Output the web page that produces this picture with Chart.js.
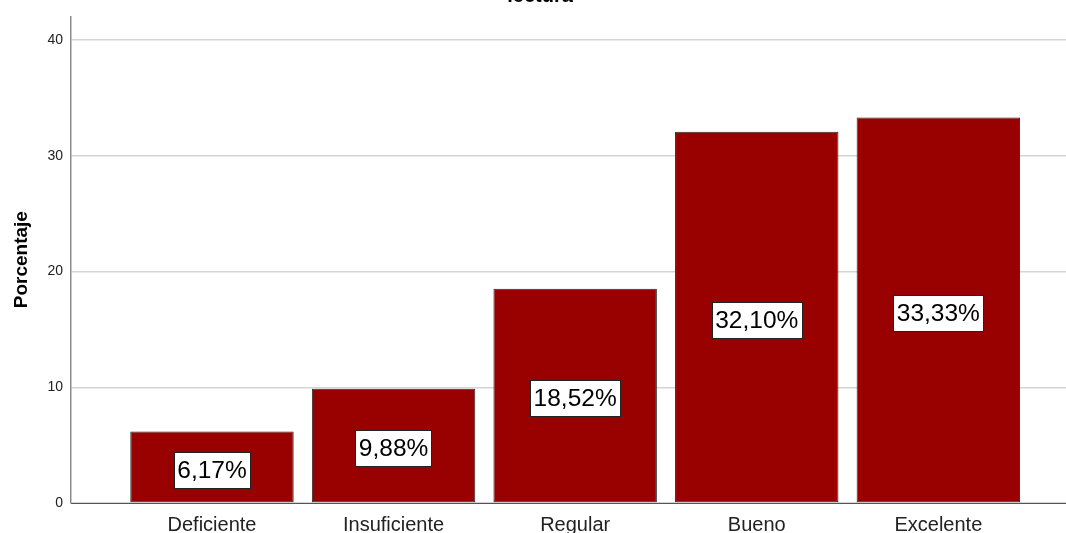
<!DOCTYPE html>
<html>
<head>
<meta charset="utf-8">
<script src="https://cdn.jsdelivr.net/npm/chart.js@4/dist/chart.umd.min.js"></script>
<style>
  html, body { margin: 0; padding: 0; background: #ffffff; }
  #wrap { width: 1066px; height: 533px; }
</style>
</head>
<body>
<div id="wrap"><canvas id="chart" width="1066" height="533"></canvas></div>
<script>
// Rating categories and their percentages
const categories = ['Deficiente', 'Insuficiente', 'Regular', 'Bueno', 'Excelente'];
const percentages = [6.17, 9.88, 18.52, 32.10, 33.33];
const yTickValues = [0, 10, 20, 30, 40];
const chartTitle = 'lectura';
const yAxisTitle = 'Porcentaje';

const FONT = '"Liberation Sans", Arial, sans-serif';

const formatPct = v => v.toFixed(2).replace('.', ',') + '%';

// Boxed value labels centred on each bar
const valueLabels = {
  id: 'valueLabels',
  afterDatasetsDraw(chart) {
    const ctx = chart.ctx;
    const meta = chart.getDatasetMeta(0);
    ctx.save();
    ctx.font = '24.5px ' + FONT;
    ctx.textAlign = 'center';
    ctx.textBaseline = 'middle';
    meta.data.forEach((bar, i) => {
      const text = formatPct(percentages[i]);
      const w = ctx.measureText(text).width + 7;
      const h = 36;
      const cx = bar.x;
      const cy = (bar.y + bar.base) / 2 + 3;
      const x0 = Math.round(cx - w / 2) + 0.5;
      const y0 = Math.round(cy - h / 2) + 0.5;
      ctx.fillStyle = '#ffffff';
      ctx.fillRect(x0, y0, Math.round(w), h);
      ctx.strokeStyle = '#222222';
      ctx.lineWidth = 1;
      ctx.strokeRect(x0, y0, Math.round(w), h);
      ctx.fillStyle = '#000000';
      ctx.fillText(text, cx, cy + 1);
    });
    ctx.restore();
  }
};

// Heading sitting at the very top edge of the canvas
const topTitle = {
  id: 'topTitle',
  afterDraw(chart) {
    const ctx = chart.ctx;
    ctx.save();
    ctx.font = 'bold 20px ' + FONT;
    ctx.textAlign = 'center';
    ctx.textBaseline = 'alphabetic';
    ctx.fillStyle = '#000000';
    ctx.fillText(chartTitle, 540, 2);
    ctx.restore();
  }
};

new Chart(document.getElementById('chart'), {
  type: 'bar',
  data: {
    datasets: [{
      data: categories.map((c, i) => ({ x: i, y: percentages[i] })),
      backgroundColor: '#990000',
      borderColor: '#2a2a2a',
      borderWidth: 1,
      borderSkipped: false,
      barPercentage: 0.9,
      categoryPercentage: 1.0
    }]
  },
  options: {
    responsive: false,
    animation: false,
    layout: { padding: { top: 13, right: 0, bottom: 0, left: 0 } },
    plugins: {
      legend: { display: false },
      tooltip: { enabled: false },
      title: { display: false }
    },
    scales: {
      x: {
        type: 'linear',
        offset: false,
        min: -0.7764,
        max: 4.703,
        afterBuildTicks(scale) {
          scale.ticks = categories.map((c, i) => ({ value: i }));
        },
        afterFit(scale) { scale.height = 30; },
        ticks: {
          autoSkip: false,
          maxRotation: 0,
          padding: 10,
          color: '#222222',
          font: { family: FONT, size: 20 },
          callback: v => categories[v]
        },
        grid: { display: false, drawTicks: false, offset: false },
        border: { display: true, color: '#555555', width: 1 }
      },
      y: {
        min: 0,
        max: 42.06,
        afterBuildTicks(scale) {
          scale.ticks = yTickValues.map(v => ({ value: v }));
        },
        afterFit(scale) { scale.width = 71; },
        ticks: {
          padding: 8,
          color: '#222222',
          font: { family: FONT, size: 14 }
        },
        grid: { color: '#d4d4d4', lineWidth: 1.5, drawTicks: false },
        border: { display: true, color: '#8c8c8c', width: 1.5 },
        title: {
          display: true,
          text: yAxisTitle,
          color: '#000000',
          font: { family: FONT, size: 19, weight: 'bold' },
          padding: { top: 10, bottom: 0 }
        }
      }
    }
  },
  plugins: [valueLabels, topTitle]
});
</script>
</body>
</html>
